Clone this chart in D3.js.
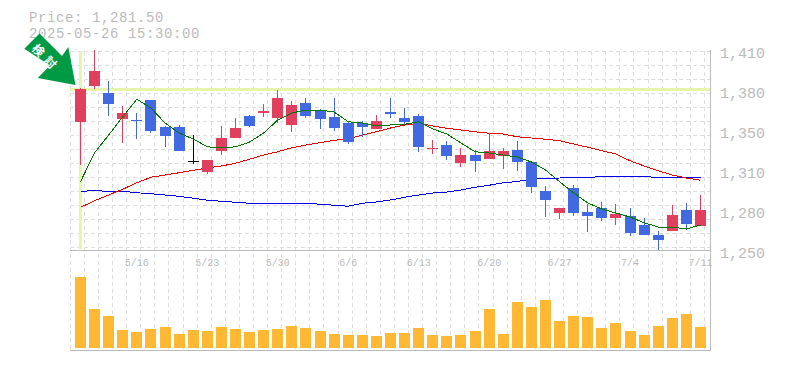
<!DOCTYPE html>
<html>
<head>
<meta charset="utf-8">
<script src="https://cdn.jsdelivr.net/npm/d3@7"></script>
<style>
  html, body { margin: 0; padding: 0; background: #fff; }
  text { font-family: "Liberation Mono", monospace; fill: #bbb; }
</style>
</head>
<body>
<div id="chart"></div>
<script>
const width = 785;
const height = 370;

const dates = ['5/12','5/13','5/14','5/15','5/16','5/19','5/20','5/21','5/22','5/23','5/26','5/27','5/28','5/29','5/30','6/2','6/3','6/4','6/5','6/6','6/9','6/10','6/11','6/12','6/13','6/16','6/17','6/18','6/19','6/20','6/23','6/24','6/25','6/26','6/27','6/30','7/1','7/2','7/3','7/4','7/7','7/8','7/9','7/10','7/11'];
const dateLabels = ['5/16','5/23','5/30','6/6','6/13','6/20','6/27','7/4','7/11'];
const priceTicks = [1410, 1378, 1346, 1314, 1282, 1250];

// candle values
const opens  = [1352.6,1381.2,1375.6,1354.8,1353.8,1370,1348.4,1348.4,1321.2,1312.4,1329.2,1339.6,1357.2,1359.6,1355.6,1350,1367.6,1361.2,1356.4,1351.6,1351.6,1346.8,1360.4,1355.6,1357.2,1331.6,1334,1319.6,1326,1322.8,1325.2,1330,1320.4,1297.2,1279.6,1299.6,1280.4,1283.6,1275.6,1277.2,1270,1262,1265.2,1282,1269.2];
const highs  = [1379.6,1410,1385.2,1365.2,1359.6,1370,1349.2,1350,1342,1322,1349.2,1355.6,1358,1366.8,1378,1369.2,1371.6,1362.8,1371.6,1353.2,1353.2,1358,1371.6,1363.6,1358.8,1338,1337.2,1331.6,1330,1343.6,1331.6,1337.2,1320.4,1301.2,1283.6,1302,1286.8,1288.4,1286.8,1283.6,1275.6,1265.2,1286,1287.6,1294];
const lows   = [1318,1378.8,1357.2,1335.6,1338.8,1343.6,1332.4,1329.2,1318.8,1310.8,1326,1339.6,1348.4,1356.4,1351.6,1344.4,1355.6,1346.8,1345.2,1334.8,1340.4,1346.8,1355.6,1350,1328.4,1326.8,1322,1316.4,1312.4,1322.8,1314.8,1313.2,1295.6,1276.4,1274.8,1277.2,1264.4,1273.2,1270,1261.2,1262,1250,1265.2,1266,1269.2];
const closes = [1378.8,1393.2,1366.8,1359.6,1353.8,1345.2,1341.2,1329.2,1321.2,1322,1339.6,1347.6,1349.2,1361.2,1371.6,1366,1357.2,1354.8,1347.6,1336.4,1348.4,1353.2,1358.8,1352.4,1332.4,1331.6,1325.2,1326,1321.2,1329.2,1329.2,1320.4,1300.4,1290,1283.6,1279.6,1277.2,1275.6,1278.8,1263.6,1262,1258,1278,1270.8,1282];
const candleColors = ['red','red','blue','red','blue','blue','blue','blue','black','red','red','red','blue','red','red','red','blue','blue','blue','blue','blue','red','blue','blue','blue','red','blue','red','blue','red','red','blue','blue','blue','red','blue','blue','blue','red','blue','blue','blue','red','blue','red'];

const maShort = [1304.6,1327.8,1342,1356.6,1370.6,1363.6,1351.6,1343.6,1338.8,1332.6,1331.6,1332.6,1336.4,1343.6,1354,1359.6,1362,1362,1360.4,1352.6,1351.6,1349.2,1350,1350.6,1352.6,1346.8,1342.8,1335.6,1328.6,1327.6,1326,1324.4,1320.4,1314,1304.6,1295.6,1287.6,1282.8,1279.6,1276.4,1271.8,1268.4,1268.4,1266.8,1270];
const maMid   = [1284.1,1289.4,1294,1298.6,1303.8,1308.2,1310,1311.8,1313.8,1315.6,1317.2,1319.4,1322.6,1326,1328.6,1331.8,1334,1335.8,1337.8,1338.8,1342,1344.6,1347.6,1350,1351.4,1349.2,1347.4,1346,1344.6,1343.4,1342.8,1340.6,1339.6,1338.6,1337.4,1334.8,1332.2,1329.4,1326.8,1321.4,1317.2,1313.4,1310,1307.6,1305.8];
const maLong  = [1297,1297.4,1297,1297,1295.8,1295,1294,1293,1291.4,1289.8,1289,1288.2,1287.4,1287.4,1287.4,1287.4,1287.4,1286.6,1285.8,1285,1287.4,1288.4,1290,1292.2,1294,1295.6,1296.4,1298,1300.2,1301.8,1303.8,1304.8,1306.6,1307.4,1307.6,1308.2,1308.2,1308.6,1308.6,1308.6,1308.6,1308.2,1308.2,1308.2,1308.2];

const volumes = [71,39,32,18,16,19,21,14,18,17,21,19,16,18,19,22,20,17,14,13,13,12,15,15,20,13,12,13,17,39,14,46,41,48,27,32,31,20,25,17,13,22,30,34,21];
const volumeMax = 90;

const highlightPrice = 1378.4;
const highlightIndex = 0;

const colorOf = { red: '#e0405e', blue: '#4169e1', black: '#000' };

const svg = d3.select('#chart')
  .append('svg')
  .attr('viewBox', [0, 0, width, height])
  .attr('width', width)
  .attr('height', height)
  .style('display', 'block');

const indexes = d3.range(dates.length);

const x = d3.scalePoint()
  .domain(indexes)
  .range([80.5, 700.5]);
const step = x.step();

const y = d3.scaleLinear()
  .domain([1250, 1410])
  .range([250, 50]);

const yVol = d3.scaleLinear()
  .domain([0, volumeMax])
  .range([348, 258]);

// grid, both panels
const grid = svg.append('g')
  .attr('stroke', '#ddd')
  .attr('stroke-dasharray', '4 3')
  .attr('shape-rendering', 'crispEdges');

grid.selectAll('.v')
  .data(d3.range(46))
  .join('line')
  .attr('class', 'v')
  .attr('x1', d => Math.floor(x(0) - 10.2 + d * step) + 0.5)
  .attr('x2', d => Math.floor(x(0) - 10.2 + d * step) + 0.5)
  .attr('y1', 51)
  .attr('y2', 350);

grid.selectAll('.h')
  .data(d3.range(15))
  .join('line')
  .attr('class', 'h')
  .attr('x1', 70)
  .attr('x2', 710)
  .attr('y1', d => 51.5 + d * 14)
  .attr('y2', d => 51.5 + d * 14);

// highlight cross
const cross = svg.append('g')
  .attr('stroke', '#e6f5a8')
  .attr('stroke-width', 3)
  .attr('shape-rendering', 'crispEdges');

cross.append('line')
  .attr('x1', x(highlightIndex))
  .attr('x2', x(highlightIndex))
  .attr('y1', 51)
  .attr('y2', 249);

cross.append('line')
  .attr('x1', 70)
  .attr('x2', 710)
  .attr('y1', y(highlightPrice))
  .attr('y2', y(highlightPrice));

// panel frame
const frame = svg.append('g')
  .attr('stroke', '#bbb')
  .attr('stroke-width', 1)
  .attr('shape-rendering', 'crispEdges');
frame.append('line').attr('x1', 70).attr('x2', 710).attr('y1', 250.5).attr('y2', 250.5);
frame.append('line').attr('x1', 70).attr('x2', 710).attr('y1', 350.5).attr('y2', 350.5);
frame.append('line').attr('x1', 710.5).attr('x2', 710.5).attr('y1', 50).attr('y2', 351);

// volume
svg.append('g')
  .attr('shape-rendering', 'crispEdges')
  .selectAll('rect')
  .data(volumes)
  .join('rect')
  .attr('x', (d, i) => Math.round(x(i) - 5.5))
  .attr('width', 11)
  .attr('y', d => yVol(d))
  .attr('height', d => yVol(0) - yVol(d))
  .attr('fill', '#ffb833');

// moving average lines
const lineGen = d3.line()
  .x((d, i) => x(i))
  .y(d => y(d));

const drawLine = (values, color) => {
  svg.append('path').datum(values)
    .attr('d', lineGen)
    .attr('fill', 'none')
    .attr('stroke', color)
    .attr('stroke-width', 1)
    .attr('shape-rendering', 'crispEdges');
};

drawLine(maLong, '#0000e6');
drawLine(maMid, '#f00000');

// candles
const candles = svg.append('g')
  .selectAll('g')
  .data(indexes)
  .join('g')
  .attr('shape-rendering', 'crispEdges');

candles.append('line')
  .attr('x1', i => Math.round(x(i) - 5.5) + 5.5)
  .attr('x2', i => Math.round(x(i) - 5.5) + 5.5)
  .attr('y1', i => y(highs[i]))
  .attr('y2', i => y(lows[i]))
  .attr('stroke', i => colorOf[candleColors[i]]);

candles.append('rect')
  .attr('x', i => Math.round(x(i) - 5.5))
  .attr('width', 11)
  .attr('y', i => y(Math.max(opens[i], closes[i])))
  .attr('height', i => Math.max(1, Math.abs(y(opens[i]) - y(closes[i]))))
  .attr('fill', i => colorOf[candleColors[i]]);

drawLine(maShort, '#007800');

// price labels on the right
svg.append('g')
  .selectAll('text')
  .data(priceTicks)
  .join('text')
  .attr('x', 720)
  .attr('y', d => y(d) + 8)
  .attr('font-size', 15)
  .text(d => d3.format(',')(Math.round(d / 10) * 10));

// date labels
svg.append('g')
  .selectAll('text')
  .data(dateLabels)
  .join('text')
  .attr('x', d => x(dates.indexOf(d)))
  .attr('y', 266)
  .attr('text-anchor', 'middle')
  .attr('font-size', 10)
  .text(d => d);

// header
svg.append('text').attr('x', 29).attr('y', 22).attr('font-size', 14).attr('letter-spacing', 0.6).text('Price: 1,281.50');
svg.append('text').attr('x', 29).attr('y', 38).attr('font-size', 14).attr('letter-spacing', 0.6).text('2025-05-26 15:30:00');

// arrow
svg.append('path')
  .attr('d', 'M39.5,33.5 L62,56 L68.3,47 L75.5,85 L37.7,78 L50,65.5 L24.3,48.7 Z')
  .attr('fill', '#009944');
svg.append('text')
  .attr('transform', 'translate(47,57.5) rotate(45)')
  .attr('text-anchor', 'middle')
  .attr('dominant-baseline', 'central')
  .attr('font-size', 12)
  .attr('font-weight', 'bold')
  .attr('letter-spacing', 5)
  .style('font-family', '"Noto Sans CJK JP"')
  .style('fill', '#fff')
  .text('検討');
</script>
</body>
</html>
